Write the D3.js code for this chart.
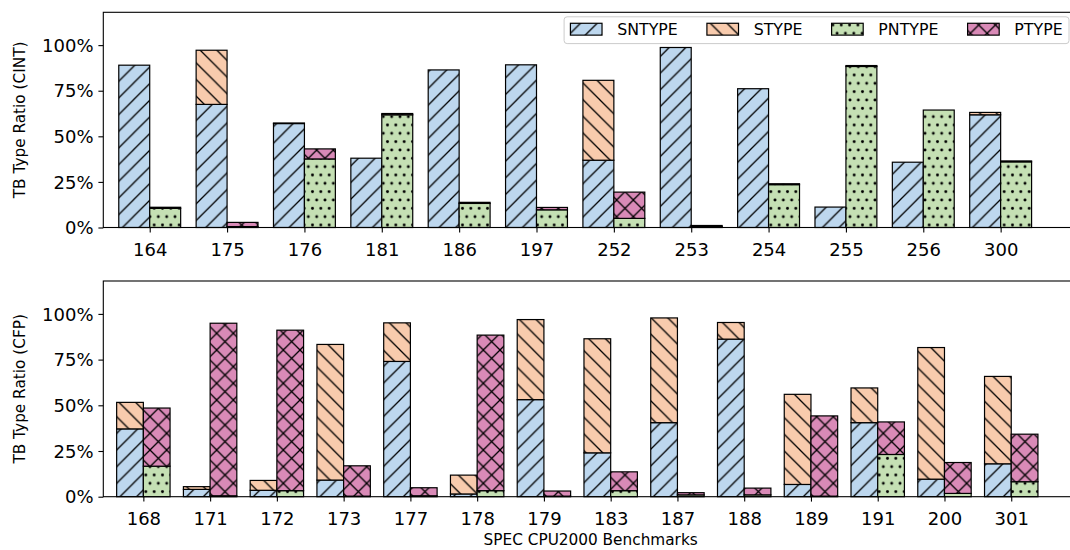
<!DOCTYPE html>
<html>
<head>
<meta charset="utf-8">
<script src="https://cdn.jsdelivr.net/npm/d3@7"></script>
<style>
  html, body { margin: 0; padding: 0; background: #fff; }
  svg { display: block; font-family: "DejaVu Sans", sans-serif; }
</style>
</head>
<body>
<svg id="chart" width="1070" height="550"></svg>
<script>
// SPEC CPU2000 integer benchmarks (ratios in percent)
const cintBenchmarks = ["164", "175", "176", "181", "186", "197", "252", "253", "254", "255", "256", "300"];
const cintSNTYPE = [89.0, 67.5, 57.0, 38.0, 86.4, 89.2, 36.9, 98.7, 76.1, 11.2, 35.8, 61.8];
const cintSTYPE  = [0.0, 29.7, 0.3, 0.0, 0.0, 0.0, 43.8, 0.0, 0.0, 0.0, 0.0, 1.3];
const cintPNTYPE = [10.5, 0.5, 37.6, 61.8, 13.2, 9.7, 5.0, 0.5, 23.5, 88.3, 64.4, 36.0];
const cintPTYPE  = [0.6, 2.3, 5.5, 0.7, 0.6, 1.3, 14.4, 0.6, 0.5, 0.5, 0.0, 0.5];

// SPEC CPU2000 floating-point benchmarks (ratios in percent)
const cfpBenchmarks = ["168", "171", "172", "173", "177", "178", "179", "183", "187", "188", "189", "191", "200", "301"];
const cfpSNTYPE = [37.1, 4.0, 3.5, 9.1, 74.0, 1.5, 53.1, 24.0, 40.5, 86.2, 6.7, 40.5, 9.6, 18.0];
const cfpSTYPE  = [14.5, 1.5, 5.4, 74.2, 21.1, 10.3, 43.8, 62.4, 57.3, 9.1, 49.3, 19.0, 72.0, 47.8];
const cfpPNTYPE = [16.7, 0.5, 3.3, 0.3, 0.5, 3.3, 0.3, 3.3, 1.0, 1.0, 0.3, 23.1, 1.8, 8.2];
const cfpPTYPE  = [31.8, 94.4, 87.8, 16.6, 4.4, 85.1, 2.8, 10.3, 1.2, 3.7, 43.9, 17.8, 16.9, 26.0];

const seriesNames = ["SNTYPE", "STYPE", "PNTYPE", "PTYPE"];
const seriesColors = ["#bdd7ee", "#f8cbad", "#c5e0b4", "#d98ab7"];
const yTickValues = [0, 25, 50, 75, 100];

const svg = d3.select("#chart");
const defs = svg.append("defs");

// hatch fills: "/", "\", "..", "x"
const hs = 100 / 6;
const hatchLine = 1.3;
function linePattern(id, color, d) {
  const p = defs.append("pattern").attr("id", id)
    .attr("patternUnits", "userSpaceOnUse").attr("width", hs).attr("height", hs);
  p.append("rect").attr("width", hs).attr("height", hs).attr("fill", color);
  p.append("path").attr("d", d).attr("stroke", "#000").attr("stroke-width", hatchLine).attr("fill", "none");
}
const fwd = `M0,${hs}L${hs},0M${-hs/2},${hs/2}L${hs/2},${-hs/2}M${hs/2},${1.5*hs}L${1.5*hs},${hs/2}`;
const back = `M0,0L${hs},${hs}M${-hs/2},${hs/2}L${hs/2},${1.5*hs}M${hs/2},${-hs/2}L${1.5*hs},${hs/2}`;
linePattern("hatch-sn", seriesColors[0], fwd);
linePattern("hatch-s", seriesColors[1], back);
linePattern("hatch-p", seriesColors[3], fwd + back);
(function dotPattern() {
  const s = hs / 2;
  const p = defs.append("pattern").attr("id", "hatch-pn")
    .attr("patternUnits", "userSpaceOnUse").attr("width", s).attr("height", 2 * s);
  p.append("rect").attr("width", s).attr("height", 2 * s).attr("fill", seriesColors[2]);
  [[0, 0], [s, 0], [0, 2 * s], [s, 2 * s], [s / 2, s]].forEach(([cx, cy]) =>
    p.append("circle").attr("cx", cx).attr("cy", cy).attr("r", 1.45).attr("fill", "#000"));
})();
const fills = ["url(#hatch-sn)", "url(#hatch-s)", "url(#hatch-pn)", "url(#hatch-p)"];

// plot area runs slightly past the right edge of the canvas
const plotLeft = 103.3, plotRight = 1078;
const barWidth = 0.4;

function drawPanel(cfg) {
  const { names, sn, s, pn, p, top, bottom, ylabel } = cfg;
  const x = d3.scaleLinear().domain([-0.6, names.length]).range([plotLeft, plotRight]);
  const y = d3.scaleLinear().domain([0, 118]).range([bottom, top]);
  const g = svg.append("g");

  // stacked bars: left column SNTYPE + STYPE, right column PNTYPE + PTYPE
  const stacks = [
    { vals: sn, base: names.map(() => 0), off: -barWidth, fill: fills[0] },
    { vals: s, base: sn, off: -barWidth, fill: fills[1] },
    { vals: pn, base: names.map(() => 0), off: 0, fill: fills[2] },
    { vals: p, base: pn, off: 0, fill: fills[3] }
  ];
  stacks.forEach(st => {
    g.append("g").selectAll("rect")
      .data(names.map((n, i) => ({ i, v: st.vals[i], b: st.base[i] })))
      .join("rect")
      .attr("x", d => x(d.i + st.off))
      .attr("width", d => x(d.i + st.off + barWidth) - x(d.i + st.off))
      .attr("y", d => y(d.b + d.v))
      .attr("height", d => y(d.b) - y(d.b + d.v))
      .attr("fill", st.fill)
      .attr("stroke", "#000")
      .attr("stroke-width", 1.2);
  });

  // axes
  const xAxis = d3.axisBottom(x)
    .tickValues(d3.range(names.length))
    .tickFormat(i => names[i])
    .tickSize(4.9).tickSizeOuter(0).tickPadding(11);
  const xg = g.append("g").attr("transform", `translate(0,${bottom})`).call(xAxis);
  const yAxis = d3.axisLeft(y)
    .tickValues(yTickValues)
    .tickFormat(v => v + "%")
    .tickSize(4.9).tickSizeOuter(0).tickPadding(4.9);
  const yg = g.append("g").attr("transform", `translate(${plotLeft},0)`).call(yAxis);
  [xg, yg].forEach(a => {
    a.select(".domain").remove();
    a.selectAll(".tick line").attr("stroke", "#000").attr("stroke-width", 1.1);
    a.selectAll(".tick text").attr("fill", "#000").style("font-size", "18px")
      .style("font-family", "DejaVu Sans");
  });
  yg.selectAll(".tick text").attr("dy", "0.34em");

  // frame
  g.append("rect")
    .attr("x", plotLeft).attr("y", top)
    .attr("width", plotRight - plotLeft).attr("height", bottom - top)
    .attr("fill", "none").attr("stroke", "#000").attr("stroke-width", 1.1);

  // y label
  g.append("text")
    .attr("transform", `translate(25,${(top + bottom) / 2}) rotate(-90)`)
    .attr("text-anchor", "middle")
    .style("font-size", "15.3px")
    .attr("fill", "#000")
    .text(ylabel);
}

drawPanel({
  names: cintBenchmarks, sn: cintSNTYPE, s: cintSTYPE, pn: cintPNTYPE, p: cintPTYPE,
  top: 12.3, bottom: 227.5, ylabel: "TB Type Ratio (CINT)"
});
drawPanel({
  names: cfpBenchmarks, sn: cfpSNTYPE, s: cfpSTYPE, pn: cfpPNTYPE, p: cfpPTYPE,
  top: 281, bottom: 496.7, ylabel: "TB Type Ratio (CFP)"
});

// shared x label
svg.append("text")
  .attr("x", (plotLeft + plotRight) / 2).attr("y", 545)
  .attr("text-anchor", "middle")
  .style("font-size", "15.3px")
  .attr("fill", "#000")
  .text("SPEC CPU2000 Benchmarks");

// legend (one row, upper right of the CINT panel)
(function legend() {
  const fs = 15.8;
  const rightEdge = 1069, topEdge = 16.8, height = 26.8;
  const lg = svg.append("g");
  const frame = lg.append("rect");
  const items = lg.append("g");
  let cx = 0;
  const patchW = 2 * fs, patchH = 0.75 * fs;
  const textGap = 0.8 * fs + 2.5, colGap = 2 * fs - 2.5;
  seriesNames.forEach((name, i) => {
    items.append("rect")
      .attr("x", cx).attr("y", 29.2 - patchH / 2)
      .attr("width", patchW).attr("height", patchH)
      .attr("fill", fills[i]).attr("stroke", "#000").attr("stroke-width", 1.2);
    const t = items.append("text")
      .attr("x", cx + patchW + textGap).attr("y", 35.2)
      .style("font-size", fs + "px").attr("fill", "#000")
      .text(name);
    cx = cx + patchW + textGap + t.node().getComputedTextLength() + colGap;
  });
  const contentW = cx - colGap;
  const pad = 0.4 * fs;
  const leftEdge = rightEdge - contentW - 2 * pad;
  items.attr("transform", `translate(${leftEdge + pad},0)`);
  frame.attr("x", leftEdge).attr("y", topEdge)
    .attr("width", rightEdge - leftEdge).attr("height", height)
    .attr("rx", 3).attr("ry", 3)
    .attr("fill", "#fff").attr("fill-opacity", 0.8)
    .attr("stroke", "#cccccc").attr("stroke-width", 1);
})();
</script>
</body>
</html>
